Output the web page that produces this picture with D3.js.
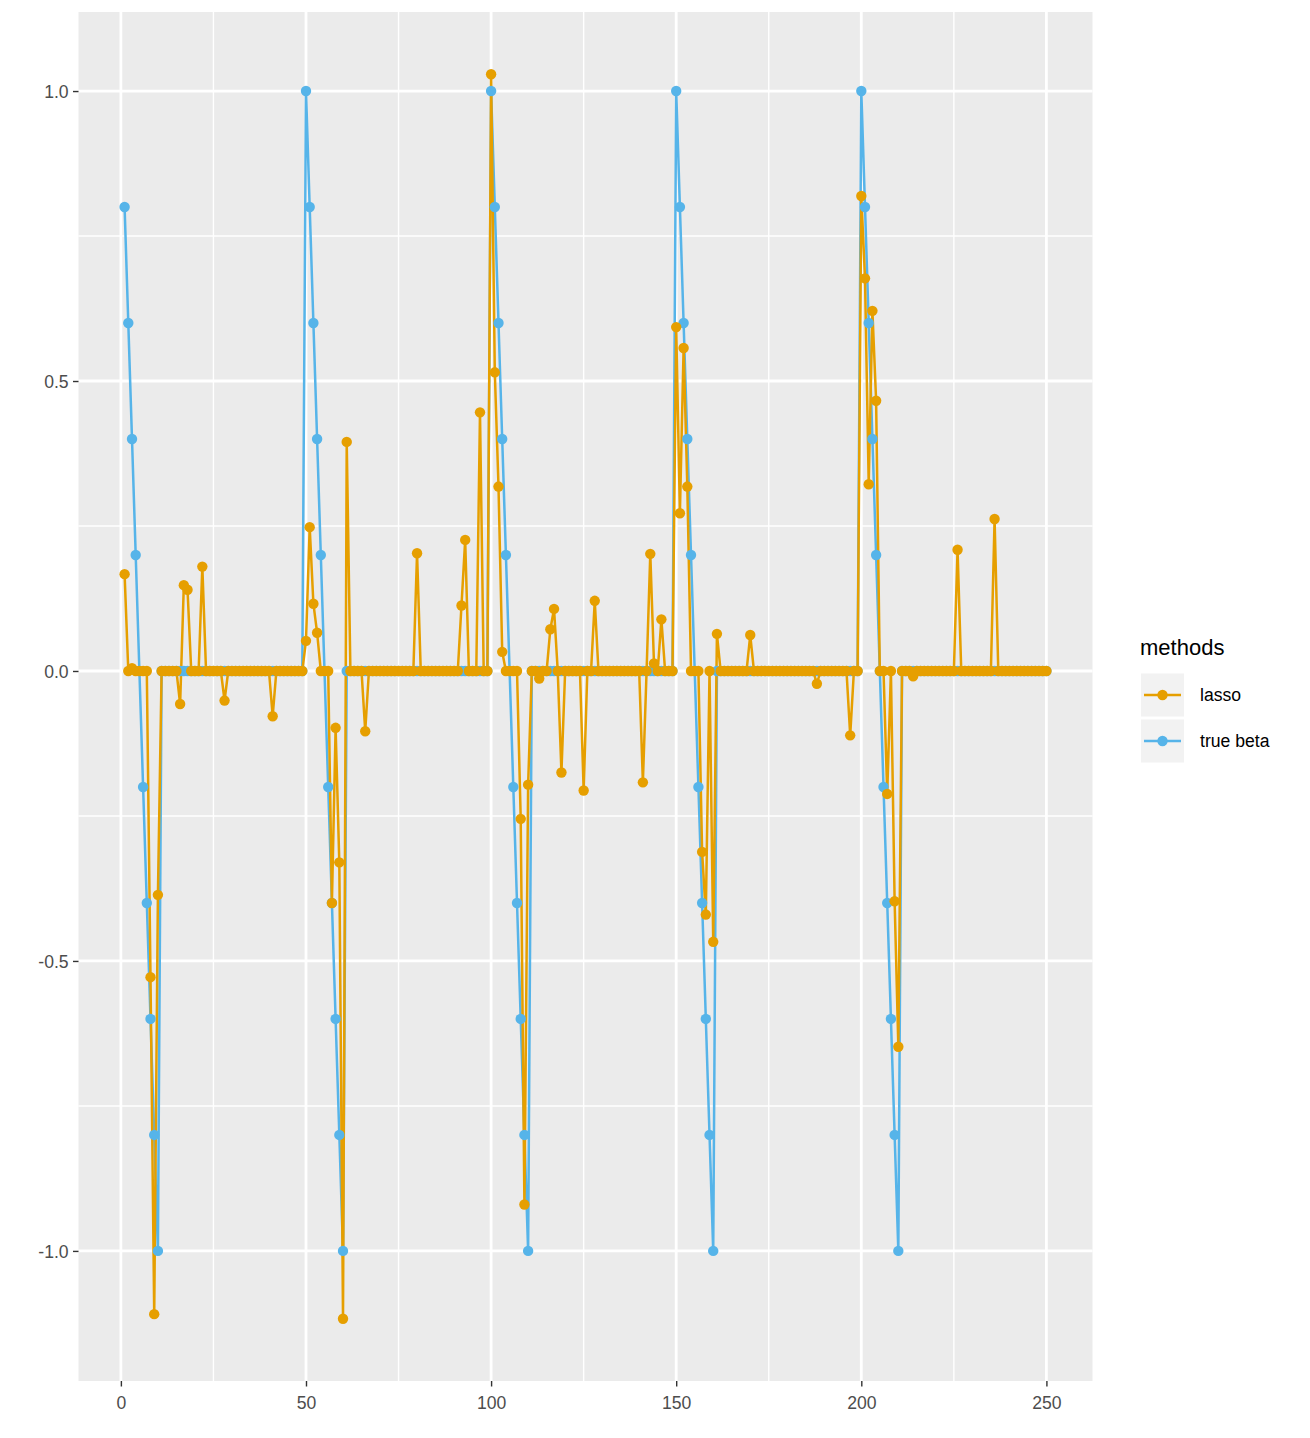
<!DOCTYPE html>
<html>
<head>
<meta charset="utf-8">
<script src="https://cdnjs.cloudflare.com/ajax/libs/d3/7.8.5/d3.min.js"></script>
<style>
  body { margin: 0; background: #fff; }
  svg text { font-family: "Liberation Sans", Arial, Helvetica, sans-serif; }
</style>
</head>
<body>
<svg id="chart"></svg>
<script>
// values, index 1..250
var lasso = [
  0.167, 0, 0.005, 0, 0, 0, 0, -0.528, -1.109, -0.386,
  0, 0, 0, 0, 0, -0.057, 0.148, 0.140, 0, 0,
  0, 0.180, 0, 0, 0, 0, 0, -0.051, 0, 0,
  0, 0, 0, 0, 0, 0, 0, 0, 0, 0,
  -0.078, 0, 0, 0, 0, 0, 0, 0, 0, 0.052,
  0.248, 0.116, 0.066, 0, 0, 0, -0.400, -0.098, -0.330, -1.117,
  0.395, 0, 0, 0, 0, -0.104, 0, 0, 0, 0,
  0, 0, 0, 0, 0, 0, 0, 0, 0, 0.203,
  0, 0, 0, 0, 0, 0, 0, 0, 0, 0,
  0, 0.113, 0.226, 0, 0, 0, 0.446, 0, 0, 1.029,
  0.515, 0.318, 0.033, 0, 0, 0, 0, -0.255, -0.920, -0.196,
  0, 0, -0.013, 0, 0, 0.072, 0.107, 0, -0.175, 0,
  0, 0, 0, 0, -0.206, 0, 0, 0.121, 0, 0,
  0, 0, 0, 0, 0, 0, 0, 0, 0, 0,
  -0.192, 0, 0.202, 0.013, 0, 0.089, 0, 0, 0, 0.593,
  0.272, 0.557, 0.318, 0, 0, 0, -0.312, -0.420, 0, -0.467,
  0.064, 0, 0, 0, 0, 0, 0, 0, 0, 0.062,
  0, 0, 0, 0, 0, 0, 0, 0, 0, 0,
  0, 0, 0, 0, 0, 0, 0, -0.022, 0, 0,
  0, 0, 0, 0, 0, 0, -0.111, 0, 0, 0.819,
  0.677, 0.322, 0.621, 0.466, 0, 0, -0.212, 0, -0.397, -0.648,
  0, 0, 0, -0.009, 0, 0, 0, 0, 0, 0,
  0, 0, 0, 0, 0, 0.209, 0, 0, 0, 0,
  0, 0, 0, 0, 0, 0.262, 0, 0, 0, 0,
  0, 0, 0, 0, 0, 0, 0, 0, 0, 0
];

var trueBeta = [
  0.8, 0.6, 0.4, 0.2, 0, -0.2, -0.4, -0.6, -0.8, -1,
  0, 0, 0, 0, 0, 0, 0, 0, 0, 0,
  0, 0, 0, 0, 0, 0, 0, 0, 0, 0,
  0, 0, 0, 0, 0, 0, 0, 0, 0, 0,
  0, 0, 0, 0, 0, 0, 0, 0, 0, 1,
  0.8, 0.6, 0.4, 0.2, 0, -0.2, -0.4, -0.6, -0.8, -1,
  0, 0, 0, 0, 0, 0, 0, 0, 0, 0,
  0, 0, 0, 0, 0, 0, 0, 0, 0, 0,
  0, 0, 0, 0, 0, 0, 0, 0, 0, 0,
  0, 0, 0, 0, 0, 0, 0, 0, 0, 1,
  0.8, 0.6, 0.4, 0.2, 0, -0.2, -0.4, -0.6, -0.8, -1,
  0, 0, 0, 0, 0, 0, 0, 0, 0, 0,
  0, 0, 0, 0, 0, 0, 0, 0, 0, 0,
  0, 0, 0, 0, 0, 0, 0, 0, 0, 0,
  0, 0, 0, 0, 0, 0, 0, 0, 0, 1,
  0.8, 0.6, 0.4, 0.2, 0, -0.2, -0.4, -0.6, -0.8, -1,
  0, 0, 0, 0, 0, 0, 0, 0, 0, 0,
  0, 0, 0, 0, 0, 0, 0, 0, 0, 0,
  0, 0, 0, 0, 0, 0, 0, 0, 0, 0,
  0, 0, 0, 0, 0, 0, 0, 0, 0, 1,
  0.8, 0.6, 0.4, 0.2, 0, -0.2, -0.4, -0.6, -0.8, -1,
  0, 0, 0, 0, 0, 0, 0, 0, 0, 0,
  0, 0, 0, 0, 0, 0, 0, 0, 0, 0,
  0, 0, 0, 0, 0, 0, 0, 0, 0, 0,
  0, 0, 0, 0, 0, 0, 0, 0, 0, 0
];

var methods = ["lasso", "true beta"];
var methodColors = ["#E69F00", "#56B4E9"];
var xTicks = [0, 50, 100, 150, 200, 250];
var xMinor = [25, 75, 125, 175, 225];
var yTicks = [-1, -0.5, 0, 0.5, 1];
var yMinor = [-0.75, -0.25, 0.25, 0.75];

var Chart = (function(){
    var width = 1310, height = 1438;
    var panel = {left: 78.5, right: 1092.5, top: 12, bottom: 1381};
    var svg, x, y, series;

    function buildSeries(){
        series = [lasso, trueBeta].map(function(vals, k){
            return {
                name: methods[k],
                color: methodColors[k],
                values: vals.map(function(v, i){ return {i: i + 1, v: v}; })
            };
        });
    }

    function buildScales(){
        var all = lasso.concat(trueBeta);
        var xMin = 1, xMax = lasso.length;
        var xPad = (xMax - xMin) * 0.05;
        var yMin = d3.min(all), yMax = d3.max(all);
        var yPad = (yMax - yMin) * 0.05;

        x = d3.scaleLinear()
            .domain([xMin - xPad, xMax + xPad])
            .range([panel.left, panel.right]);
        y = d3.scaleLinear()
            .domain([yMin - yPad, yMax + yPad])
            .range([panel.bottom, panel.top]);
    }

    function drawPanel(){
        svg.append("rect")
            .attr("x", panel.left)
            .attr("y", panel.top)
            .attr("width", panel.right - panel.left)
            .attr("height", panel.bottom - panel.top)
            .attr("fill", "#EBEBEB");

        var grid = svg.append("g").attr("class", "grid");

        grid.selectAll(".xminor").data(xMinor).enter().append("line")
            .attr("x1", d => x(d)).attr("x2", d => x(d))
            .attr("y1", panel.top).attr("y2", panel.bottom)
            .attr("stroke", "white").attr("stroke-width", 1.4);
        grid.selectAll(".yminor").data(yMinor).enter().append("line")
            .attr("y1", d => y(d)).attr("y2", d => y(d))
            .attr("x1", panel.left).attr("x2", panel.right)
            .attr("stroke", "white").attr("stroke-width", 1.4);
        grid.selectAll(".xmajor").data(xTicks).enter().append("line")
            .attr("x1", d => x(d)).attr("x2", d => x(d))
            .attr("y1", panel.top).attr("y2", panel.bottom)
            .attr("stroke", "white").attr("stroke-width", 2.8);
        grid.selectAll(".ymajor").data(yTicks).enter().append("line")
            .attr("y1", d => y(d)).attr("y2", d => y(d))
            .attr("x1", panel.left).attr("x2", panel.right)
            .attr("stroke", "white").attr("stroke-width", 2.8);
    }

    function drawAxes(){
        var xAxis = d3.axisBottom(x)
            .tickValues(xTicks)
            .tickFormat(d3.format("d"))
            .tickSize(5.5)
            .tickPadding(10);
        var yAxis = d3.axisLeft(y)
            .tickValues(yTicks)
            .tickFormat(d => d3.format(".1f")(d).replace("\u2212", "-"))
            .tickSize(5.5)
            .tickPadding(4.4);

        var gx = svg.append("g")
            .attr("transform", "translate(0," + panel.bottom + ")")
            .call(xAxis);
        var gy = svg.append("g")
            .attr("transform", "translate(" + panel.left + ",0)")
            .call(yAxis);

        [gx, gy].forEach(function(g){
            g.select(".domain").remove();
            g.selectAll(".tick line").attr("stroke", "#333333").attr("stroke-width", 1.4);
            g.selectAll(".tick text")
                .attr("fill", "#4D4D4D")
                .style("font-size", "17.6px")
                .style("font-family", "'Liberation Sans', Arial, sans-serif");
        });
        gy.selectAll(".tick text").attr("dy", "0.35em");
    }

    function drawSeries(){
        var line = d3.line()
            .x(d => x(d.i))
            .y(d => y(d.v));

        // true beta underneath, lasso drawn on top (as in the picture)
        var order = series.slice().reverse();

        svg.append("g").selectAll("path")
            .data(order)
            .enter()
            .append("path")
                .attr("d", d => line(d.values))
                .attr("fill", "none")
                .attr("stroke", d => d.color)
                .attr("stroke-width", 2.5)
                .attr("stroke-linejoin", "round");

        order.forEach(function(s){
            svg.append("g").selectAll("circle")
                .data(s.values)
                .enter()
                .append("circle")
                    .attr("cx", d => x(d.i))
                    .attr("cy", d => y(d.v))
                    .attr("r", 5.2)
                    .attr("fill", s.color);
        });
    }

    function drawLegend(){
        var lg = svg.append("g").attr("transform", "translate(1140,0)");
        lg.append("text")
            .attr("x", 0)
            .attr("y", 655)
            .style("font-size", "22px")
            .attr("fill", "#000")
            .text("methods");

        var keys = lg.selectAll(".key")
            .data(series)
            .enter()
            .append("g")
                .attr("transform", (d, k) => "translate(0," + (673.5 + k * 46) + ")");

        keys.append("rect")
            .attr("x", 1).attr("y", 0)
            .attr("width", 43).attr("height", 43)
            .attr("fill", "#F2F2F2");
        keys.append("line")
            .attr("x1", 4).attr("x2", 41)
            .attr("y1", 21.5).attr("y2", 21.5)
            .attr("stroke", d => d.color)
            .attr("stroke-width", 2.5);
        keys.append("circle")
            .attr("cx", 22.5).attr("cy", 21.5)
            .attr("r", 5.2)
            .attr("fill", d => d.color);
        keys.append("text")
            .attr("x", 60)
            .attr("y", 21.5)
            .attr("dy", "0.35em")
            .style("font-size", "17.6px")
            .attr("fill", "#000")
            .text(d => d.name);
    }

    return {
        init: function(){
            svg = d3.select("#chart")
                .attr("width", width)
                .attr("height", height);
            buildSeries();
            buildScales();
            drawPanel();
            drawAxes();
            drawSeries();
            drawLegend();
        }
    };
})();

Chart.init();
</script>
</body>
</html>
